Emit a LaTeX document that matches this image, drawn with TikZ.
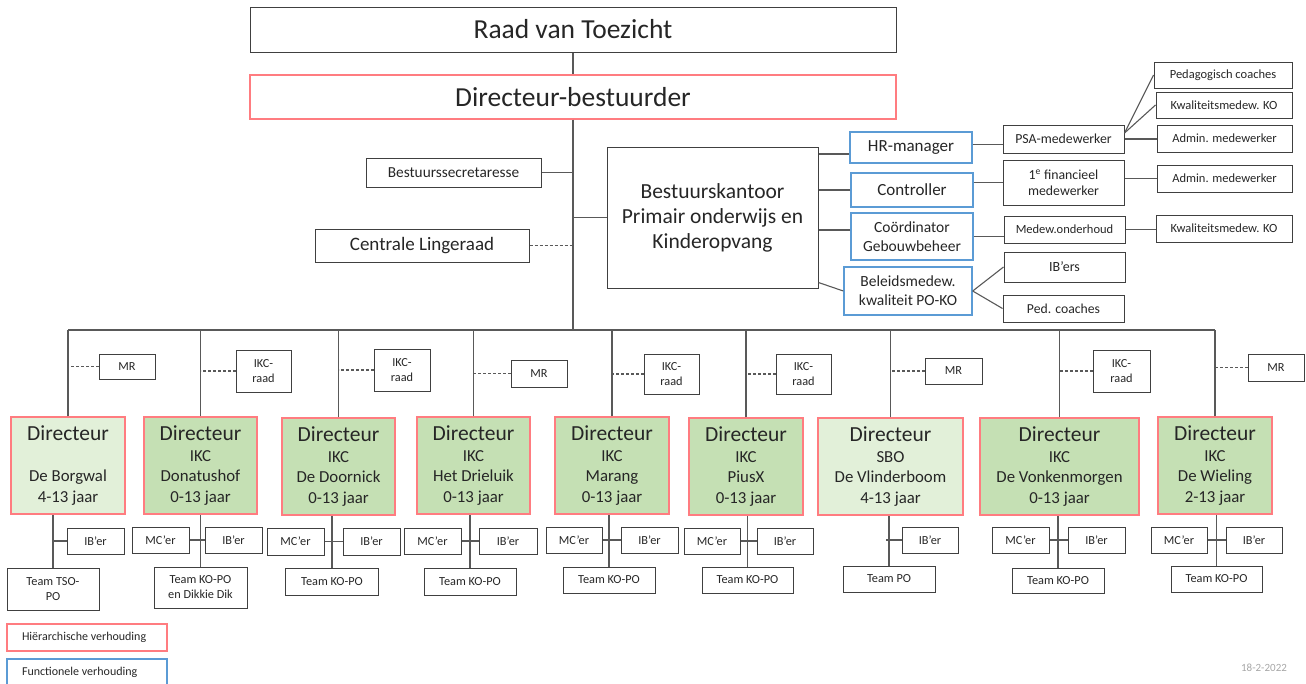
\documentclass[tikz,border=0pt]{standalone}
\usepackage{fontspec}
\setmainfont{Carlito}

\definecolor{boxline}{HTML}{404040}
\definecolor{conn}{HTML}{595959}
\definecolor{hierred}{HTML}{FF7C80}
\definecolor{funcblue}{HTML}{5B9BD5}
\definecolor{ikcgreen}{HTML}{C5E0B4}
\definecolor{sbogreen}{HTML}{E2F0D9}
\definecolor{ink}{HTML}{262626}
\definecolor{datgray}{HTML}{A6A6A6}

\newcommand{\fs}[2]{\fontsize{#1}{#2}\selectfont}
\newcommand{\dirhead}{{\fs{21.5}{24}Directeur}}

\tikzset{
  box/.style={draw=boxline, line width=1pt, text=ink, align=center, inner sep=0pt},
  hier/.style={box, draw=hierred, line width=1.4pt},
  func/.style={box, draw=funcblue, line width=1.4pt},
  dirbox/.style={hier, fill=ikcgreen, font=\fs{16.8}{20.5}},
  dirlight/.style={dirbox, fill=sbogreen},
  small/.style={box, font=\fs{12.3}{15}},
  link/.style={draw=conn, line width=1.1pt},
  sz/.style 2 args={minimum width=#1, minimum height=#2},
}

\begin{document}
\begin{tikzpicture}[x=1pt, y=-1pt]
  \useasboundingbox (0,0) rectangle (1306,683);

  % top of the organisation
  \node[box, sz={646}{45}, font=\fs{27.5}{30}] (raad) at (573,29.5) {Raad van Toezicht};
  \node[hier, sz={646}{44}, font=\fs{27.5}{30}] (bestuurder) at (573,97) {Directeur-bestuurder};
  \node[box, sz={175}{29}, font=\fs{15.3}{17}] (secretaresse) at (453.5,172.5) {Bestuurssecretaresse};
  \node[box, sz={214}{33}, font=\fs{19}{22}] (lingeraad) at (422,245.5) {Centrale Lingeraad};
  \node[box, sz={211}{141}, font=\fs{21.5}{25}] (kantoor) at (712.5,217.5) {Bestuurskantoor\\Primair onderwijs en\\Kinderopvang};

  % bestuurskantoor
  \node[func, sz={122}{31}, font=\fs{17}{20}] (hr) at (911,147.5) {HR-manager};
  \node[func, sz={122}{34}, font=\fs{17}{20}] (controller) at (912,190) {Controller};
  \node[func, sz={122}{47}, font=\fs{15.5}{19}] (gebouw) at (912,236.5) {Coördinator\\Gebouwbeheer};
  \node[func, sz={128}{48}, font=\fs{15.5}{19}] (beleid) at (908,291) {Beleidsmedew.\\kwaliteit PO-KO};
  \node[box, sz={121}{28}, font=\fs{13.8}{16}] (psa) at (1063.5,139) {PSA-medewerker};
  \node[box, sz={121}{45}, font=\fs{13.8}{16}] (fin) at (1063.5,182.5) {1\textsuperscript{e} financieel\\medewerker};
  \node[box, sz={121}{27}, font=\fs{12.5}{15}] (onderhoud) at (1064.5,229.5) {Medew.onderhoud};
  \node[box, sz={121}{30}, font=\fs{14}{16}] (ibers) at (1064.5,267) {IB’ers};
  \node[box, sz={121}{27}, font=\fs{13.7}{16}] (pedcoach) at (1063.5,308.5) {Ped. coaches};
  \node[box, sz={138}{26}, font=\fs{12.5}{15}] (pedagog) at (1223,75) {Pedagogisch coaches};
  \node[box, sz={136}{26}, font=\fs{12.5}{15}] (kwalA) at (1224,105) {Kwaliteitsmedew. KO};
  \node[box, sz={135}{27}, font=\fs{12.5}{15}] (adminA) at (1224.5,138.5) {Admin. medewerker};
  \node[box, sz={135}{27}, font=\fs{12.5}{15}] (adminB) at (1224.5,178.5) {Admin. medewerker};
  \node[box, sz={136}{27}, font=\fs{12.5}{15}] (kwalB) at (1224,228.5) {Kwaliteitsmedew. KO};

  \coordinate (bus) at (573,330);
  \draw[link] (raad) -- (bestuurder);
  \draw[link] (bestuurder.south) -- (bus);
  \draw[link] (secretaresse.east) -- (secretaresse.east -| bus);
  \draw[link, dash pattern=on 3pt off 2pt] (lingeraad.east) -- (lingeraad.east -| bus);
  \draw[link] (kantoor.west) -- (kantoor.west -| bus);
  \draw[link] ([yshift=-6.5pt]hr.west) -- ([yshift=-6.5pt]hr.west -| kantoor.east);
  \draw[link] (controller.west) -- (controller.west -| kantoor.east);
  \draw[link] ([yshift=6.5pt]gebouw.west) -- ([yshift=6.5pt]gebouw.west -| kantoor.east);
  \draw[link] ([yshift=6pt]kantoor.south east) -- (beleid.west);
  \draw[link] ([yshift=3pt]hr.east) -- ([yshift=3pt]hr.east -| psa.west);
  \draw[link] (fin.west -| controller.east) -- (fin.west);
  \draw[link] (gebouw.east) -- (gebouw.east -| onderhoud.west);
  \draw[link] (beleid.east) -- (ibers.west);
  \draw[link] (beleid.east) -- (pedcoach.west);
  \draw[link] ([yshift=6pt]psa.east) -- (pedagog.west);
  \draw[link] ([yshift=6pt]psa.east) -- (kwalA.west);
  \draw[link] (psa.east) -- (psa.east -| adminA.west);
  \draw[link] (adminB.west -| fin.east) -- (adminB.west);
  \draw[link] (onderhoud.east) -- (onderhoud.east -| kwalB.west);

  % directeuren
  \node[dirlight, sz={114}{97}] (d1) at (68,465.5) {\dirhead\\\mbox{}\\De Borgwal\\4-13 jaar};
  \node[dirbox, sz={113}{97}] (d2) at (200.5,465.5) {\dirhead\\IKC\\Donatushof\\0-13 jaar};
  \node[dirbox, sz={113}{97}] (d3) at (338.5,466.5) {\dirhead\\IKC\\De Doornick\\0-13 jaar};
  \node[dirbox, sz={113}{97}] (d4) at (473.5,465.5) {\dirhead\\IKC\\Het Drieluik\\0-13 jaar};
  \node[dirbox, sz={114}{97}] (d5) at (612,465.5) {\dirhead\\IKC\\Marang\\0-13 jaar};
  \node[dirbox, sz={114}{97}] (d6) at (746,466.5) {\dirhead\\IKC\\PiusX\\0-13 jaar};
  \node[dirlight, sz={145}{97}] (d7) at (890.5,466.5) {\dirhead\\SBO\\De Vlinderboom\\4-13 jaar};
  \node[dirbox, sz={159}{97}] (d8) at (1059.5,466.5) {\dirhead\\IKC\\De Vonkenmorgen\\0-13 jaar};
  \node[dirbox, sz={114}{97}] (d9) at (1215,465.5) {\dirhead\\IKC\\De Wieling\\2-13 jaar};

  % MR en IKC-raden
  \node[small, sz={56}{25}] (rad1) at (127,366.5) {MR};
  \node[small, sz={55}{42}] (rad2) at (263.5,371) {IKC-\\raad};
  \node[small, sz={56}{42}] (rad3) at (402,370) {IKC-\\raad};
  \node[small, sz={56}{27}] (rad4) at (539,373.5) {MR};
  \node[small, sz={55}{40}] (rad5) at (671.5,374) {IKC-\\raad};
  \node[small, sz={55}{40}] (rad6) at (803.5,374) {IKC-\\raad};
  \node[small, sz={57}{26}] (rad7) at (953.5,371) {MR};
  \node[small, sz={57}{42}] (rad8) at (1121.5,371) {IKC-\\raad};
  \node[small, sz={56}{27}] (rad9) at (1276,367.5) {MR};

  \draw[link] (d1.north |- bus) -- (d9.north |- bus);
  \foreach \i in {1,...,9}{
    \draw[link] (d\i.north) -- (d\i.north |- bus);
    \draw[link, dash pattern=on 3pt off 2pt] (rad\i.west) -- (rad\i.west -| d\i.north);
  }

  % teams onder de scholen
  \node[small, sz={57}{26}] (ib1) at (95.5,541) {IB’er};
  \node[small, sz={92}{42}] (team1) at (53,589) {Team TSO-\\PO};
  \node[small, sz={57}{26}] (mc2) at (160.5,540) {MC’er};
  \node[small, sz={57}{26}] (ib2) at (233.5,540) {IB’er};
  \node[small, sz={93}{41}] (team2) at (200.5,587.5) {Team KO-PO\\en Dikkie Dik};
  \node[small, sz={57}{27}] (mc3) at (295.5,541.5) {MC’er};
  \node[small, sz={57}{27}] (ib3) at (371.5,541.5) {IB’er};
  \node[small, sz={93}{27}] (team3) at (332,581.5) {Team KO-PO};
  \node[small, sz={57}{26}] (mc4) at (432.5,541) {MC’er};
  \node[small, sz={58}{26}] (ib4) at (508,541) {IB’er};
  \node[small, sz={92}{27}] (team4) at (470,581.5) {Team KO-PO};
  \node[small, sz={56}{26}] (mc5) at (574,540) {MC’er};
  \node[small, sz={57}{26}] (ib5) at (649.5,540) {IB’er};
  \node[small, sz={92}{26}] (team5) at (609,580) {Team KO-PO};
  \node[small, sz={56}{26}] (mc6) at (712,541) {MC’er};
  \node[small, sz={56}{26}] (ib6) at (785,541) {IB’er};
  \node[small, sz={91}{26}] (team6) at (747.5,580) {Team KO-PO};
  \node[small, sz={56}{26}] (ib7) at (930,540) {IB’er};
  \node[small, sz={92}{26}] (team7) at (889,579) {Team PO};
  \node[small, sz={57}{26}] (mc8) at (1020.5,540) {MC’er};
  \node[small, sz={57}{26}] (ib8) at (1096.5,540) {IB’er};
  \node[small, sz={92}{25}] (team8) at (1058,580.5) {Team KO-PO};
  \node[small, sz={56}{26}] (mc9) at (1179,540) {MC’er};
  \node[small, sz={56}{26}] (ib9) at (1254,540) {IB’er};
  \node[small, sz={91}{26}] (team9) at (1216.5,579) {Team KO-PO};

  \foreach \i in {1,...,9}
    \draw[link] (team\i.north) -- (team\i.north |- d\i.south);
  \foreach \i in {2,3,4,5,6,8,9}
    \draw[link] (mc\i.east) -- (ib\i.west);
  \draw[link] (ib1.west) -- (ib1.west -| team1.north);
  \draw[link] (ib7.west) -- ([xshift=-3pt]ib7.west -| team7.north);

  % legenda
  \node[hier, sz={160}{27}, inner xsep=15pt, font=\fs{12}{15}] (leghier) at (87,637.5) {\makebox[130pt][l]{Hiërarchische verhouding}};
  \node[func, sz={160}{26}, inner xsep=15pt, font=\fs{12}{15}] (legfunc) at (87,672) {\makebox[130pt][l]{Functionele verhouding}};
  \node[text=datgray, font=\fs{11}{13}] (datum) at (1264,668) {18-2-2022};
\end{tikzpicture}
\end{document}
